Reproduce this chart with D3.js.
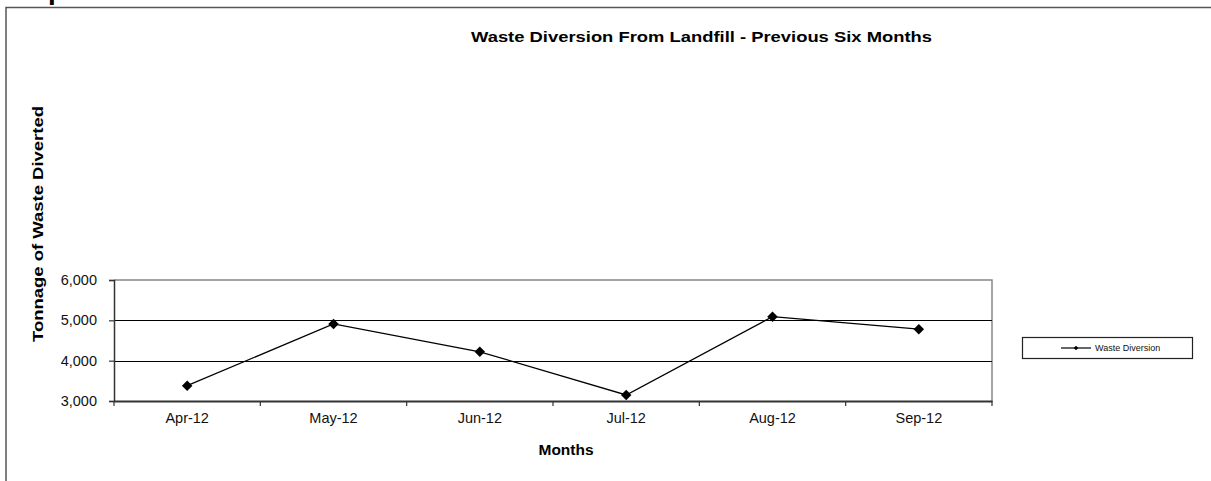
<!DOCTYPE html>
<html>
<head>
<meta charset="utf-8">
<script src="https://cdn.jsdelivr.net/npm/d3@7"></script>
<style>
  html, body { margin: 0; padding: 0; background: #fff; overflow: hidden; }
  svg { display: block; font-family: "Liberation Sans", Arial, sans-serif; }
</style>
</head>
<body>
<svg id="chart" width="1211" height="481"></svg>
<script>
// Monthly tonnage diverted from landfill
const months = ["Apr-12", "May-12", "Jun-12", "Jul-12", "Aug-12", "Sep-12"];
const tonnage = [3380, 4910, 4220, 3150, 5090, 4780];
const yTicks = [3000, 4000, 5000, 6000];
const seriesName = "Waste Diversion";
const pageHeading = "Graph 2.3 - Waste Diversion From Landfill - Previous Six Months";
const chartTitle = "Waste Diversion From Landfill - Previous Six Months";
const xTitle = "Months";
const yTitle = "Tonnage of Waste Diverted";

const svg = d3.select("#chart");
const plot = { left: 114, right: 992, top: 280, bottom: 401 };

// Heading of the page section, sitting mostly above the frame
svg.append("text")
  .attr("x", 0).attr("y", -0.5)
  .attr("font-size", 22).attr("font-weight", "bold")
  .attr("fill", "#000")
  .attr("textLength", 852).attr("lengthAdjust", "spacingAndGlyphs")
  .text(pageHeading);

// Chart frame
svg.append("rect")
  .attr("x", 6).attr("y", 7.5)
  .attr("width", 1400).attr("height", 700)
  .attr("fill", "none").attr("stroke", "#555").attr("stroke-width", 1.5);

const x = d3.scaleBand().domain(months).range([plot.left, plot.right]);
const y = d3.scaleLinear().domain([3000, 6000]).range([plot.bottom, plot.top]);

// Plot area outline (top and right)
svg.append("path")
  .attr("d", `M${plot.left},${plot.top}H${plot.right}V${plot.bottom}`)
  .attr("fill", "none").attr("stroke", "#888").attr("stroke-width", 1.5);

// Horizontal gridlines
svg.append("g").selectAll("line")
  .data(yTicks.filter(t => t > 3000 && t < 6000))
  .join("line")
  .attr("x1", plot.left).attr("x2", plot.right)
  .attr("y1", d => Math.round(y(d)) + 0.5).attr("y2", d => Math.round(y(d)) + 0.5)
  .attr("stroke", "#000").attr("stroke-width", 1.2);

// Y axis
const yAxis = svg.append("g")
  .attr("transform", `translate(${plot.left},0)`)
  .call(d3.axisLeft(y).tickValues(yTicks).tickSize(5).tickPadding(12)
    .tickFormat(d3.format(",")));
yAxis.select(".domain").attr("stroke", "#333").attr("stroke-width", 1.5);
yAxis.selectAll(".tick line").attr("stroke", "#333").attr("stroke-width", 1.2);
yAxis.selectAll(".tick text")
  .attr("font-size", 14.5).attr("fill", "#111")
  .attr("font-family", "Liberation Sans, Arial, sans-serif");

// X axis with ticks between categories
const xAxis = svg.append("g")
  .attr("transform", `translate(0,${plot.bottom})`)
  .call(d3.axisBottom(x).tickSize(0).tickPadding(12));
xAxis.select(".domain").attr("stroke", "#333").attr("stroke-width", 2);
xAxis.selectAll(".tick text")
  .attr("font-size", 14.5).attr("fill", "#111")
  .attr("font-family", "Liberation Sans, Arial, sans-serif");
svg.append("g").selectAll("line")
  .data(months.concat(["end"]))
  .join("line")
  .attr("x1", (d, i) => i < months.length ? x(d) : x(months[months.length - 1]) + x.bandwidth())
  .attr("x2", (d, i) => i < months.length ? x(d) : x(months[months.length - 1]) + x.bandwidth())
  .attr("y1", plot.bottom).attr("y2", plot.bottom + 5)
  .attr("stroke", "#333").attr("stroke-width", 1.2);

// Series line and diamond markers
const cx = d => x(d) + x.bandwidth() / 2;
const data = months.map((m, i) => ({ m, v: tonnage[i] }));
svg.append("path")
  .datum(data)
  .attr("d", d3.line().x(d => cx(d.m)).y(d => y(d.v)))
  .attr("fill", "none").attr("stroke", "#000").attr("stroke-width", 1.3);
const diamond = d3.symbol().type(d3.symbolDiamond2).size(70);
svg.append("g").selectAll("path")
  .data(data)
  .join("path")
  .attr("d", diamond)
  .attr("transform", d => `translate(${cx(d.m)},${y(d.v)})`)
  .attr("fill", "#000");

// Titles (glyphs widened a little, as in the printed report)
svg.append("text")
  .attr("x", 701.5).attr("y", 42)
  .attr("text-anchor", "middle")
  .attr("font-size", 15.5).attr("font-weight", "bold")
  .attr("textLength", 461).attr("lengthAdjust", "spacingAndGlyphs")
  .text(chartTitle);
svg.append("text")
  .attr("x", 566).attr("y", 455)
  .attr("text-anchor", "middle")
  .attr("font-size", 14).attr("font-weight", "bold")
  .attr("textLength", 55).attr("lengthAdjust", "spacingAndGlyphs")
  .text(xTitle);
svg.append("text")
  .attr("transform", "translate(43,224) rotate(-90)")
  .attr("text-anchor", "middle")
  .attr("font-size", 15).attr("font-weight", "bold")
  .attr("textLength", 236).attr("lengthAdjust", "spacingAndGlyphs")
  .text(yTitle);

// Legend
const lg = svg.append("g");
lg.append("rect")
  .attr("x", 1022.5).attr("y", 337.5).attr("width", 170).attr("height", 21)
  .attr("fill", "#fff").attr("stroke", "#222").attr("stroke-width", 1.2);
lg.append("line")
  .attr("x1", 1061).attr("x2", 1091).attr("y1", 348).attr("y2", 348)
  .attr("stroke", "#000").attr("stroke-width", 1.2);
lg.append("path")
  .attr("d", d3.symbol().type(d3.symbolDiamond2).size(14))
  .attr("transform", "translate(1076,348)")
  .attr("fill", "#000");
lg.append("text")
  .attr("x", 1095).attr("y", 351)
  .attr("font-size", 9).attr("fill", "#111")
  .text(seriesName);
</script>
</body>
</html>
